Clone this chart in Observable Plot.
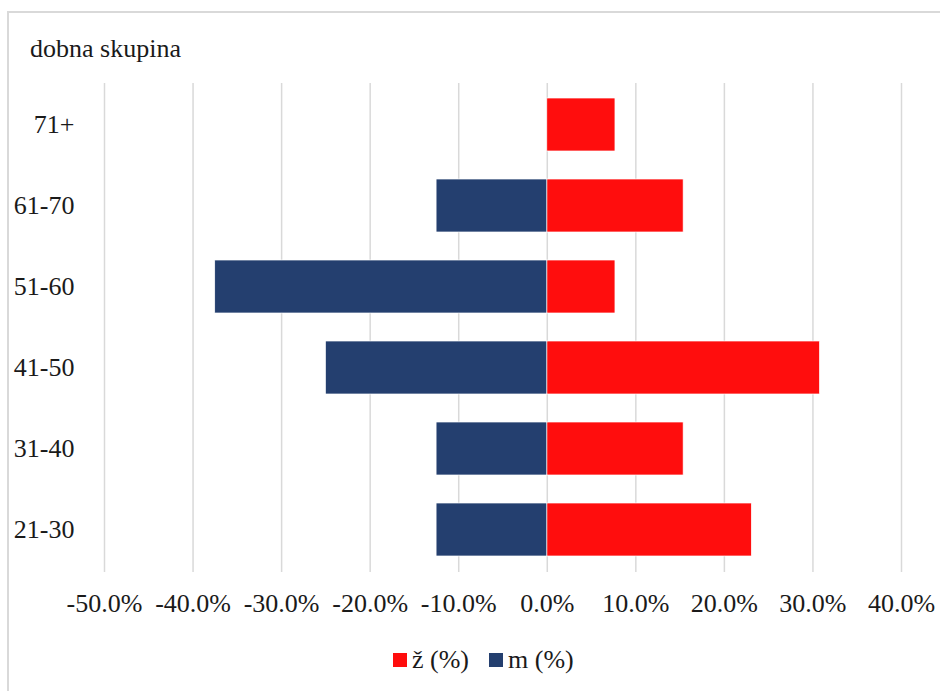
<!DOCTYPE html>
<html><head><meta charset="utf-8">
<script src="https://cdn.jsdelivr.net/npm/d3@7"></script>
<script src="https://cdn.jsdelivr.net/npm/@observablehq/plot@0.6"></script>
<style>
body{margin:0;background:#fff}
#wrap{position:relative;width:940px;height:691px;font-family:"Liberation Serif","Times New Roman",serif;color:#1a1a1a;overflow:hidden}
#frame{position:absolute;left:7px;top:11px;right:-4px;bottom:-4px;border-top:2px solid #d9d9d9;border-left:2px solid #d9d9d9;pointer-events:none}
#title{position:absolute;left:30px;top:34px;font-size:26px;line-height:30px;white-space:nowrap}
#legend{position:absolute;top:645px;left:393px;display:flex;align-items:center;font-size:26px;line-height:30px;white-space:nowrap}
#legend .sw{display:inline-block;width:14px;height:14px;margin-right:5px}
#legend .it{display:flex;align-items:center;margin-right:20px}
#chart{position:absolute;left:0;top:0}
</style>
</head><body>
<div id="wrap"><div id="chart"></div><div id="frame"></div><div id="title"></div><div id="legend"></div></div>
<script>
const title = "dobna skupina";
const groups = ["71+", "61-70", "51-60", "41-50", "31-40", "21-30"];
const seriesNames = ["ž (%)", "m (%)"];
const seriesColors = ["#FF0D0D", "#243F6F"];
const female = [7.7, 15.4, 7.7, 30.8, 15.4, 23.1];
const male = [0, -12.5, -37.5, -25.0, -12.5, -12.5];
const xTicks = [-50, -40, -30, -20, -10, 0, 10, 20, 30, 40];

const rows = [];
groups.forEach((g, i) => {
  rows.push({group: g, sex: seriesNames[0], value: female[i]});
  rows.push({group: g, sex: seriesNames[1], value: male[i]});
});

const serif = '"Liberation Serif", "Times New Roman", serif';
const chart = Plot.plot({
  width: 940,
  height: 691,
  marginLeft: 104,
  marginRight: 39,
  marginTop: 83,
  marginBottom: 119,
  style: {fontSize: "26px", fontFamily: serif, background: "transparent", color: "#1a1a1a"},
  x: {domain: [-50, 40], ticks: xTicks, tickFormat: d => d.toFixed(1) + "%", label: null, tickSize: 0, tickPadding: 21},
  y: {domain: groups, paddingInner: 0.34, paddingOuter: 0.17, label: null, tickSize: 0, tickPadding: 30},
  color: {domain: seriesNames, range: seriesColors},
  marks: [
    Plot.gridX(xTicks, {stroke: "#d9d9d9", strokeOpacity: 1, strokeWidth: 1.5}),
    Plot.barX(rows.filter(d => d.value !== 0), {x: "value", y: "group", fill: "sex", stroke: "#ffffff", strokeWidth: 0.7})
  ]
});
document.getElementById("chart").appendChild(chart);
document.getElementById("title").textContent = title;
const lg = document.getElementById("legend");
seriesNames.forEach((n, i) => {
  const it = document.createElement("span"); it.className = "it";
  const sw = document.createElement("span"); sw.className = "sw"; sw.style.background = seriesColors[i];
  it.appendChild(sw); it.appendChild(document.createTextNode(n));
  lg.appendChild(it);
});
</script>
</body></html>
